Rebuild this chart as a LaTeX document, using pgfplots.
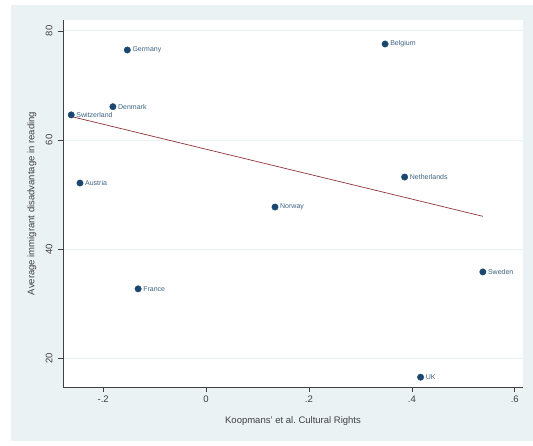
\documentclass[border=0pt]{standalone}
\usepackage{pgfplots}
\pgfplotsset{compat=1.18}
\usepackage{pgfplotstable}
\usepackage{fontspec}
\setmainfont{Liberation Sans}
\definecolor{bgc}{HTML}{EAF2F3}
\definecolor{navy}{HTML}{1A476F}
\definecolor{maroon}{HTML}{90353B}
\definecolor{axc}{HTML}{404040}
\pgfplotstableread{
x y label
-0.153 76.5 Germany
0.348 77.6 Belgium
-0.181 66.1 Denmark
-0.262 64.6 Switzerland
-0.245 52.1 Austria
0.386 53.2 Netherlands
0.134 47.7 Norway
-0.132 32.7 France
0.538 35.8 Sweden
0.417 16.5 UK
}\pts
\begin{document}
\begin{tikzpicture}[x=1pt,y=1pt]
\fill[bgc] (11,5) rectangle (533,441);
\begin{axis}[
  at={(63pt,59pt)}, anchor=south west,
  scale only axis, width=460pt, height=367pt,
  xmin=-0.278, xmax=0.616, ymin=14.7, ymax=82.0,
  axis lines*=left,
  axis line style={axc, line width=0.6pt},
  tick style={axc, line width=0.6pt},
  tick align=outside, major tick length=5pt,
  xtick={-0.2,0,0.2,0.4,0.6}, xticklabels={-.2,0,.2,.4,.6},
  ytick={20,40,60,80}, yticklabel style={rotate=90, yshift=2pt},
  ymajorgrids, grid style={bgc, line width=0.8pt},
  axis background/.style={fill=white},
  ticklabel style={font=\fontsize{9.5}{10}\selectfont, text=axc},
  /pgf/number format/assume math mode=true,
  xlabel={Koopmans' et al.\ Cultural Rights},
  ylabel={Average immigrant disadvantage in reading},
  label style={font=\fontsize{9.5}{11}\selectfont, text=axc},
  xlabel style={at={(axis description cs:0.5,-0.0935)}, anchor=center},
  ylabel style={at={(axis description cs:-0.0674,0.5)}, anchor=center},
  clip=false,
]
\addplot[maroon, line width=0.7pt] coordinates {(-0.262,64.3) (0.538,46.0)};
\addplot[only marks, mark=*, mark size=3.2pt, navy,
  nodes near coords, point meta=explicit symbolic,
  every node near coord/.style={anchor=west, xshift=4pt, font=\fontsize{7}{8}\selectfont, text=navy!85, inner sep=1pt}]
  table[x=x, y=y, meta=label] {\pts};
\end{axis}
\pgfresetboundingbox
\path[use as bounding box] (0,0) rectangle (533,446);
\end{tikzpicture}
\end{document}
